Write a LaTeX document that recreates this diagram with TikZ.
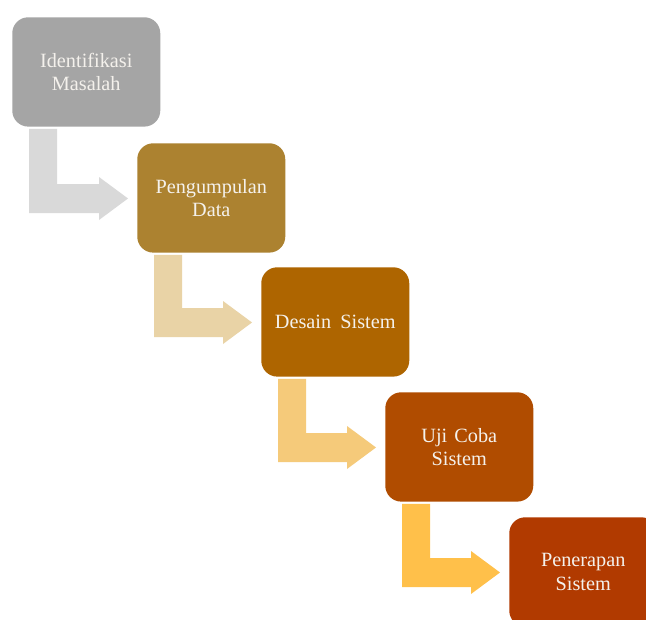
\documentclass[tikz,border=0pt]{standalone}
\usepackage{fontspec}
\setmainfont{Liberation Serif}
\usetikzlibrary{calc}
\definecolor{boxA}{HTML}{A5A5A5}
\definecolor{boxB}{HTML}{AC8230}
\definecolor{boxC}{HTML}{AE6500}
\definecolor{boxD}{HTML}{B04C00}
\definecolor{boxE}{HTML}{B13A00}
\definecolor{arrA}{HTML}{D9D9D9}
\definecolor{arrB}{HTML}{E9D3A6}
\definecolor{arrC}{HTML}{F5CA7A}
\definecolor{arrD}{HTML}{FFC04A}
\definecolor{txt}{HTML}{F4F1EC}
\newcommand\bentarrow[3]{%
  \fill[#3] let \p1=($(#1.south west)+(17,2)$), \p2=($(#2.north west)+(-38,0)$) in
    (\p1) -- (\x1+21pt,\y1) -- (\x1+21pt,\y2-30.75pt) -- (\x2,\y2-30.75pt)
    -- (\x2,\y2-25.5pt) -- (\x2+21.75pt,\y2-41.6pt) -- (\x2,\y2-57.75pt)
    -- (\x2,\y2-52.5pt) -- (\x1,\y2-52.5pt) -- cycle;}
\begin{document}
\begin{tikzpicture}[x=0.75pt,y=-0.75pt,
  box/.style={rectangle, rounded corners=12pt, minimum width=111pt, minimum height=82pt,
    inner sep=0pt, anchor=north west, align=center, text=txt,
    font=\fontsize{15.2}{17.5}\selectfont}]
\clip (0,0) rectangle (646,619);
\fill[white] (0,0) rectangle (646,619);
\node[box, fill=boxA] (b1) at (12,17) {Identifikasi\\Masalah};
\node[box, fill=boxB] (b2) at (137,143) {Pengumpulan\\Data};
\node[box, fill=boxC] (b3) at (261,267) {Desain\hspace{0.45em}Sistem};
\node[box, fill=boxD] (b4) at (385,392) {Uji\hspace{0.35em}Coba\\Sistem};
\node[box, fill=boxE] (b5) at (509,517) {Penerapan\\Sistem};
\bentarrow{b1}{b2}{arrA}
\bentarrow{b2}{b3}{arrB}
\bentarrow{b3}{b4}{arrC}
\bentarrow{b4}{b5}{arrD}
\end{tikzpicture}
\end{document}
